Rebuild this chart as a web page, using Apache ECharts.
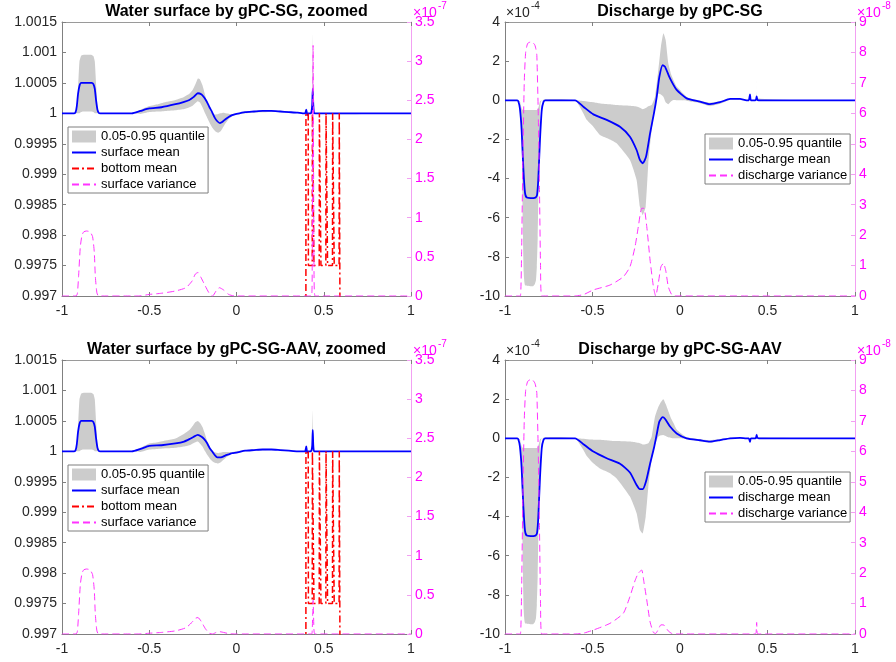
<!DOCTYPE html>
<html><head><meta charset="utf-8">
<script src="https://cdn.jsdelivr.net/npm/echarts@6/dist/echarts.min.js"></script>
<style>html,body{margin:0;padding:0;background:#fff}#c{width:896px;height:662px}</style>
</head><body><div id="c"></div>
<script>
// ---------- tick labels ----------
const xTickLabels = ['-1','-0.5','0','0.5','1'];
const surfLeftTickLabels = ['0.997','0.9975','0.998','0.9985','0.999','0.9995','1','1.0005','1.001','1.0015'];
const surfRightTickLabels = ['0','0.5','1','1.5','2','2.5','3','3.5'];
const disLeftTickLabels = ['-10','-8','-6','-4','-2','0','2','4'];
const disRightTickLabels = ['0','1','2','3','4','5','6','7','8','9'];
const titles = ['Water surface by gPC-SG, zoomed','Discharge by gPC-SG','Water surface by gPC-SG-AAV, zoomed','Discharge by gPC-SG-AAV'];

// ---------- water surface: mean ----------
const surfMeanX = [-1,-0.93,-0.922,-0.915,-0.908,-0.9,-0.89,-0.88,-0.83,-0.82,-0.812,-0.805,-0.797,-0.79,-0.78,
 -0.6,-0.55,-0.5,-0.43,-0.35,-0.3,-0.27,-0.245,-0.222,-0.2,-0.185,-0.17,-0.155,-0.14,-0.125,-0.11,-0.095,-0.08,-0.065,-0.045,-0.025,0,
 0.05,0.1,0.15,0.2,0.25,0.3,0.35,0.38,0.393,0.397,0.4,0.403,0.406,0.41,0.425,0.43,0.434,0.437,0.44,0.444,0.45,1];
const surfMeanSG = [1.0,1.0,1.00002,1.00012,1.00032,1.00045,1.0005,1.0005,1.0005,1.00048,1.0004,1.00022,1.00006,1.00001,1.0,
 1.0,1.00004,1.00008,1.0001,1.00015,1.00019,1.00022,1.00027,1.00033,1.00031,1.00026,1.00019,1.0001,1.00002,0.99993,0.99987,0.99984,0.99986,0.9999,0.99994,0.99997,0.99999,
 1.00002,1.00003,1.00004,1.00004,1.00003,1.00002,1.00001,1.0,1.0,1.00003,1.00006,1.00001,0.99997,1.0,1.0,1.00003,1.00015,1.0004,1.00015,1.00001,1.0,1.0];
const surfMeanAAV = [1.0,1.0,1.00002,1.00012,1.00032,1.00045,1.0005,1.0005,1.0005,1.00048,1.0004,1.00022,1.00006,1.00001,1.0,
 1.0,1.00004,1.00009,1.0001,1.00013,1.00016,1.0002,1.00024,1.00027,1.00024,1.0002,1.00014,1.00006,1.0,0.99994,0.9999,0.9999,0.99991,0.99993,0.99995,0.99997,0.99998,
 1.00001,1.00002,1.00003,1.00003,1.00002,1.00001,1.0,1.0,1.0,1.00004,1.00008,1.00001,0.99998,1.0,1.0,1.00002,1.0001,1.00035,1.0001,1.0,1.0,1.0];

// ---------- water surface: 0.05-0.95 quantile band ----------
const surfBandX = [-1,-0.93,-0.915,-0.908,-0.9,-0.89,-0.88,-0.83,-0.82,-0.812,-0.805,-0.797,-0.79,-0.78,
 -0.6,-0.55,-0.5,-0.45,-0.4,-0.35,-0.3,-0.27,-0.25,-0.235,-0.222,-0.21,-0.195,-0.18,-0.165,-0.15,-0.135,-0.12,-0.105,-0.09,-0.075,-0.06,-0.04,-0.02,0,
 0.05,0.1,0.2,0.3,0.35,0.43,0.434,0.437,0.44,0.444,1];
const surfUpperSG = [1.0,1.0,1.00003,1.0004,1.00085,1.00095,1.00096,1.00096,1.00094,1.00085,1.0005,1.00012,1.00002,1.0,
 1.0,1.00006,1.00012,1.00015,1.00019,1.00022,1.00027,1.00032,1.00039,1.00048,1.00057,1.00056,1.00046,1.0003,1.00014,1.00004,0.99999,0.99998,0.99999,1.0,1.00001,1.0,0.99999,0.99999,1.0,
 1.00003,1.00004,1.00005,1.00003,1.0,1.0,1.0003,1.0013,1.0003,1.0,1.0];
const surfLowerSG = [1.0,1.0,1.0,1.0,1.0,1.00002,1.00003,1.00003,1.00002,1.0,1.0,1.0,1.0,1.0,
 1.0,0.99999,1.00002,1.00003,1.00004,1.00005,1.00007,1.0001,1.00013,1.00017,1.0002,1.00018,1.0001,1.0,0.99991,0.99982,0.99975,0.9997,0.99968,0.99971,0.99978,0.99985,0.99992,0.99996,0.99998,
 1.0,1.00001,1.00002,1.00001,1.0,1.0,1.0,1.0,1.0,1.0,1.0];
const surfUpperAAV = [1.0,1.0,1.00003,1.0004,1.00085,1.00095,1.00096,1.00096,1.00094,1.00085,1.0005,1.00012,1.00002,1.0,
 1.0,1.00006,1.00013,1.00015,1.00018,1.00021,1.00029,1.00035,1.00042,1.00048,1.0005,1.00047,1.0004,1.00028,1.00014,1.00005,1.0,0.99998,0.99997,0.99998,0.99999,0.99999,0.99999,0.99999,1.0,
 1.00002,1.00003,1.00004,1.00002,1.0,1.0,1.0002,1.00067,1.0002,1.0,1.0];
const surfLowerAAV = [1.0,1.0,1.0,1.0,1.0,1.00002,1.00003,1.00003,1.00002,1.0,1.0,1.0,1.0,1.0,
 1.0,0.99999,1.00003,1.00004,1.00005,1.00006,1.00008,1.0001,1.00013,1.00015,1.00016,1.00013,1.00008,1.0,0.99993,0.99987,0.99983,0.99981,0.9998,0.99982,0.99986,0.9999,0.99994,0.99997,0.99998,
 1.0,1.00001,1.00002,1.00001,1.0,1.0,1.0,1.0,1.0,1.0,1.0];

// ---------- bottom mean (same in both surface plots) ----------
const bottomX = [-1,0.397,0.398,0.411,0.412,0.434,0.435,0.443,0.444,0.474,0.475,0.483,0.484,0.512,0.513,0.521,0.522,0.550,0.551,0.559,0.560,0.588,0.589,0.600,0.601,1];
const bottomMean = [0.99,0.99,1.0,1.0,0.9975,0.9975,1.0,1.0,0.9975,0.9975,1.0,1.0,0.9975,0.9975,1.0,1.0,0.9975,0.9975,1.0,1.0,0.9975,0.9975,1.0,1.0,0.99,0.99];

// ---------- surface variance (x 1e-7) ----------
const surfVarX = [-1,-0.92,-0.912,-0.905,-0.895,-0.885,-0.875,-0.86,-0.84,-0.825,-0.815,-0.809,-0.8,-0.79,
 -0.6,-0.56,-0.5,-0.43,-0.35,-0.29,-0.255,-0.236,-0.221,-0.202,-0.179,-0.156,-0.137,-0.117,-0.098,-0.074,-0.045,-0.01,
 0.43,0.434,0.437,0.439,0.441,0.444,0.45,1];
const surfVarSG = [0,0,0.03,0.25,0.63,0.78,0.82,0.83,0.82,0.76,0.56,0.25,0.04,0,
 0,0,0.02,0.035,0.064,0.106,0.19,0.28,0.3,0.23,0.128,0.034,0,0.064,0.106,0.077,0.02,0,
 0,0.4,2.2,3.2,2.2,0.4,0,0];
const surfVarAAV = [0,0,0.03,0.25,0.63,0.78,0.82,0.83,0.82,0.76,0.56,0.25,0.04,0,
 0,0,0.01,0.02,0.04,0.08,0.15,0.2,0.21,0.16,0.07,0.01,0,0.02,0.03,0.02,0.005,0,
 0,0.05,0.3,0.43,0.3,0.05,0,0];

// ---------- discharge mean (x 1e-4) ----------
const disMeanX = [-1,-0.93,-0.924,-0.915,-0.905,-0.895,-0.886,-0.875,-0.838,-0.825,-0.817,-0.81,-0.8,-0.79,-0.78,-0.77,
 -0.6,-0.552,-0.495,-0.419,-0.343,-0.286,-0.248,-0.229,-0.213,-0.194,-0.171,-0.149,-0.133,-0.118,-0.099,-0.086,-0.057,-0.019,
 0.038,0.114,0.171,0.229,0.286,0.343,0.38,0.393,0.4,0.405,0.43,0.435,0.438,0.442,0.45,1];
const disMeanSG = [0,0,-0.05,-0.4,-1.5,-3.5,-4.7,-4.97,-5.0,-4.97,-4.85,-4.07,-2.0,-0.5,-0.08,0,
 0,-0.33,-0.72,-1.0,-1.35,-1.86,-2.54,-3.05,-3.22,-2.88,-1.69,-0.67,0.18,1.2,1.8,1.72,1.12,0.53,
 0.1,-0.07,-0.2,-0.1,0.07,0.07,0,0,0.3,0,0,0.05,0.2,0.02,0,0];
const disMeanAAV = [0,0,-0.05,-0.4,-1.5,-3.5,-4.7,-4.97,-5.0,-4.97,-4.85,-4.07,-2.0,-0.5,-0.08,0,
 0,-0.3,-0.68,-1.02,-1.3,-1.75,-2.39,-2.6,-2.6,-2.2,-1.3,-0.5,0.2,0.85,1.08,1.0,0.6,0.25,
 0.0,-0.1,-0.17,-0.09,0.0,0.02,0,0,-0.18,0,0,0.05,0.17,0.02,0,0];

// ---------- discharge band (x 1e-4) ----------
const disBandX = [-1,-0.93,-0.915,-0.908,-0.903,-0.898,-0.893,-0.885,-0.84,-0.83,-0.823,-0.818,-0.813,-0.807,-0.8,-0.79,
 -0.6,-0.552,-0.533,-0.495,-0.457,-0.4,-0.362,-0.286,-0.248,-0.229,-0.213,-0.196,-0.181,-0.162,-0.143,-0.124,-0.109,-0.095,-0.082,-0.067,-0.05,-0.038,-0.019,0,
 0.038,0.07,0.114,0.171,0.229,0.286,0.33,0.43,0.436,0.44,0.444,1];
const disUpperSG = [0,0,-0.05,-0.3,-0.45,-0.5,-0.5,-0.5,-0.5,-0.5,-0.5,-0.5,-0.45,-0.3,-0.05,0,
 0,-0.04,-0.06,-0.1,-0.16,-0.2,-0.24,-0.28,-0.32,-0.38,-0.46,-0.4,-0.3,-0.24,0.18,1.55,2.74,3.42,3.08,1.89,1.3,1.04,0.7,0.53,
 0.18,0.06,-0.02,-0.12,-0.05,0.08,0.06,0,0.3,1.0,0.1,0];
const disLowerSG = [0,0,-0.1,-0.6,-3.0,-6.5,-8.8,-9.45,-9.5,-9.4,-9.2,-8.5,-7.0,-4.0,-1.5,0,
 0,-0.67,-1.0,-1.35,-1.77,-2.0,-2.2,-3.05,-4.07,-5.44,-5.86,-5.44,-3.22,-1.52,-0.33,0.35,0.3,0.18,-0.1,-0.2,-0.05,0.01,0,0,
 -0.02,-0.08,-0.15,-0.3,-0.18,0.03,0.03,0,0,0,0,0];
const disUpperAAV = [0,0,-0.05,-0.3,-0.45,-0.5,-0.5,-0.5,-0.5,-0.5,-0.5,-0.5,-0.45,-0.3,-0.05,0,
 0,-0.03,-0.05,-0.07,-0.08,-0.12,-0.14,-0.17,-0.22,-0.26,-0.32,-0.3,-0.26,0.08,1.1,1.6,1.85,1.99,1.75,1.4,1.0,0.8,0.45,0.3,
 0.05,0.0,-0.05,-0.1,-0.04,0.03,0.02,0,0.1,0.3,0.05,0];
const disLowerAAV = [0,0,-0.1,-0.6,-3.0,-6.5,-8.8,-9.45,-9.5,-9.4,-9.2,-8.5,-7.0,-4.0,-1.5,0,
 0,-0.6,-0.9,-1.28,-1.55,-1.79,-2.05,-2.98,-3.83,-4.69,-4.86,-4.0,-2.5,-1.1,-0.34,0.08,0.15,0.17,0.12,0.05,0.02,0,0,0,
 -0.05,-0.1,-0.15,-0.22,-0.12,-0.01,0,0,0,0,0,0];

// ---------- discharge variance (x 1e-8) ----------
const disVarX = [-1,-0.925,-0.912,-0.905,-0.898,-0.89,-0.882,-0.87,-0.848,-0.83,-0.823,-0.818,-0.81,-0.803,-0.797,-0.79,
 -0.6,-0.55,-0.495,-0.4,-0.324,-0.286,-0.257,-0.238,-0.219,-0.206,-0.19,-0.171,-0.152,-0.139,-0.124,-0.109,-0.095,-0.082,-0.067,-0.048,-0.03,
 0.43,0.435,0.438,0.441,0.446,1];
const disVarSG = [0,0,0,1.5,4.5,7.0,8.0,8.3,8.35,8.25,8.1,7.9,6.0,3.5,1.0,0,
 0,0.05,0.2,0.36,0.63,0.96,1.62,2.28,2.88,2.88,2.28,1.18,0.31,0,0.42,0.96,1.07,0.85,0.31,0.05,0,
 0,0,0,0,0,0];
const disVarAAV = [0,0,0,1.5,4.5,7.0,8.0,8.3,8.37,8.25,8.1,7.9,6.0,3.5,1.0,0,
 0,0.03,0.13,0.35,0.68,1.23,1.75,2.0,2.1,1.7,1.12,0.4,0.05,0.02,0.15,0.3,0.3,0.22,0.1,0.02,0,
 0,0.05,0.38,0.05,0,0];

// ---------- build ----------
const FONT = '"Liberation Sans", Arial, Helvetica, sans-serif';
const GREY = '#cccccc', BLUE = '#0000ff', RED = '#ff0000', MAG = '#ff00ff', MAGL = '#f2a0f2', AX = '#808080', TXT = '#262626';
const zip = (xs, ys) => xs.map((x, i) => [x, ys[i]]);
const fmt = labels => v => { const l = labels.find(s => Math.abs(parseFloat(s) - v) < 1e-7); return l === undefined ? '' : l; };

const grids = [
  {left: 62, top: 22, width: 349, height: 274},
  {left: 505, top: 22, width: 350, height: 274},
  {left: 62, top: 360, width: 349, height: 274},
  {left: 505, top: 360, width: 350, height: 274}
];
const xAxis = [], yAxis = [], series = [], legend = [], title = [], graphic = [];

const plots = [
  {kind: 'surf', mean: surfMeanSG, upper: surfUpperSG, lower: surfLowerSG, vari: surfVarSG},
  {kind: 'dis', mean: disMeanSG, upper: disUpperSG, lower: disLowerSG, vari: disVarSG},
  {kind: 'surf', mean: surfMeanAAV, upper: surfUpperAAV, lower: surfLowerAAV, vari: surfVarAAV},
  {kind: 'dis', mean: disMeanAAV, upper: disUpperAAV, lower: disLowerAAV, vari: disVarAAV}
];

plots.forEach((p, i) => {
  const g = grids[i];
  const surf = p.kind === 'surf';
  xAxis.push({gridIndex: i, type: 'value', min: -1, max: 1, interval: 0.5, position: 'bottom',
    axisLine: {onZero: false, lineStyle: {color: AX, width: 1}},
    axisTick: {inside: true, length: 4, lineStyle: {color: AX}},
    axisLabel: {formatter: fmt(xTickLabels), fontSize: 14, color: TXT, margin: 8, fontFamily: FONT},
    splitLine: {show: false}});
  xAxis.push({gridIndex: i, type: 'value', min: -1, max: 1, interval: 0.5, position: 'top',
    axisLine: {onZero: false, lineStyle: {color: '#9a9a9a', width: 1}},
    axisTick: {inside: true, length: 4, lineStyle: {color: AX}},
    axisLabel: {show: false}, splitLine: {show: false}});
  yAxis.push({gridIndex: i, type: 'value', position: 'left',
    min: surf ? 0.997 : -10, max: surf ? 1.0015 : 4, interval: surf ? 0.0005 : 2,
    axisLine: {show: true, onZero: false, lineStyle: {color: AX, width: 1}},
    axisTick: {show: true, inside: true, length: 4, lineStyle: {color: AX}},
    axisLabel: {formatter: fmt(surf ? surfLeftTickLabels : disLeftTickLabels), fontSize: 14, color: TXT, margin: 5, fontFamily: FONT},
    splitLine: {show: false}});
  yAxis.push({gridIndex: i, type: 'value', position: 'right',
    min: 0, max: surf ? 3.5 : 9, interval: surf ? 0.5 : 1,
    axisLine: {show: true, onZero: false, lineStyle: {color: MAGL, width: 1}},
    axisTick: {show: true, inside: true, length: 4, lineStyle: {color: MAGL}},
    axisLabel: {formatter: fmt(surf ? surfRightTickLabels : disRightTickLabels), fontSize: 14, color: MAG, margin: 4, fontFamily: FONT},
    splitLine: {show: false}});

  const xa = 2 * i, ya = 2 * i, yr = 2 * i + 1;
  const bx = surf ? surfBandX : disBandX;
  const mx = surf ? surfMeanX : disMeanX;
  const vx = surf ? surfVarX : disVarX;
  const common = {type: 'line', xAxisIndex: xa, symbol: 'none', showSymbol: false, animation: false, silent: true};

  const upperPts = zip(bx, p.upper);
  const lowerPts = zip(bx, p.lower).reverse();
  series.push({type: 'custom', name: '0.05-0.95 quantile', xAxisIndex: xa, yAxisIndex: ya, silent: true, animation: false,
    itemStyle: {color: GREY}, clip: true,
    data: upperPts,
    renderItem: (params, api) => {
      if (params.dataIndex !== 0) return null;
      const pts = upperPts.concat(lowerPts).map(q => api.coord(q));
      return {type: 'polygon', shape: {points: pts, smooth: 0.15}, style: {fill: GREY, stroke: null}};
    }});
  const meanName = surf ? 'surface mean' : 'discharge mean';
  series.push(Object.assign({}, common, {name: meanName, yAxisIndex: ya, smooth: 0.2,
    data: zip(mx, p.mean), itemStyle: {color: BLUE}, lineStyle: {color: BLUE, width: 1.8}}));
  if (surf) {
    series.push(Object.assign({}, common, {name: 'bottom mean', yAxisIndex: ya,
      data: zip(bottomX, bottomMean), itemStyle: {color: RED}, lineStyle: {color: RED, width: 1.5, type: [7, 3, 2, 3]}}));
  }
  const varName = surf ? 'surface variance' : 'discharge variance';
  series.push(Object.assign({}, common, {name: varName, yAxisIndex: yr, smooth: 0.2,
    data: zip(vx, p.vari), itemStyle: {color: MAG}, lineStyle: {color: '#ff33ff', width: 1, type: [7, 4]}}));

  const hide = {opacity: 0};
  const legData = [{name: '0.05-0.95 quantile', icon: 'rect', itemStyle: {color: GREY}},
    {name: meanName, itemStyle: hide}];
  if (surf) legData.push({name: 'bottom mean', itemStyle: hide});
  legData.push({name: varName, itemStyle: hide});
  legend.push({orient: 'vertical', left: surf ? g.left + 6 : 705, top: surf ? g.top + 105 : g.top + 112,
    data: legData, itemWidth: 24, itemHeight: 12, itemGap: 3, padding: [3, 3, 2, 3],
    backgroundColor: '#fff', borderColor: '#7f7f7f', borderWidth: 1, borderRadius: 0,
    selectedMode: false, textStyle: {fontSize: 13, color: '#000', fontFamily: FONT}});

  title.push({text: titles[i], left: g.left + g.width / 2, top: g.top - 18, textAlign: 'center', padding: 0,
    textStyle: {fontSize: 16, fontWeight: 'bold', color: '#000', fontFamily: FONT}});

  const addExp = (x, y, exp, color) => {
    graphic.push({type: 'text', left: x, top: y, silent: true,
      style: {text: '\u00d710', fill: color, fontSize: 14, fontFamily: FONT}});
    graphic.push({type: 'text', left: x + 25, top: y - 5, silent: true,
      style: {text: exp, fill: color, fontSize: 10, fontFamily: FONT}});
  };
  if (surf) addExp(g.left + g.width + 2, g.top - 16, '-7', MAG);
  else {
    addExp(g.left + 1, g.top - 16, '-4', TXT);
    addExp(g.left + g.width + 2, g.top - 16, '-8', MAG);
  }
});

const chart = echarts.init(document.getElementById('c'), null, {renderer: 'canvas'});
chart.setOption({
  animation: false,
  backgroundColor: '#fff',
  textStyle: {fontFamily: FONT},
  grid: grids,
  xAxis, yAxis, series, legend, title, graphic
});
</script></body></html>
